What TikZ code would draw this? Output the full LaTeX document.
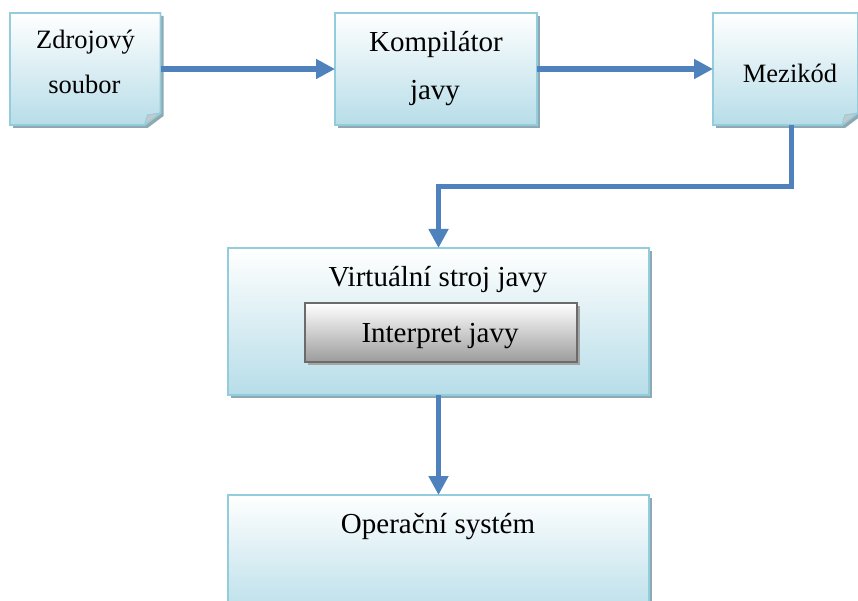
\documentclass[tikz,border=0pt]{standalone}
\usepackage{fontspec}
\setmainfont{Liberation Serif}
\usetikzlibrary{arrows.meta,shadows,calc}
\definecolor{boxline}{HTML}{93CDDD}
\definecolor{boxbot}{HTML}{B7DDE8}
\definecolor{shcol}{HTML}{8FA9B2}
\definecolor{arrcol}{HTML}{4F81BD}
\definecolor{grayline}{HTML}{6B6B6B}
\definecolor{graybot}{HTML}{9C9C9C}
\definecolor{grayshadow}{HTML}{A5A5A5}
\definecolor{foldcol}{HTML}{C8C8C8}
\tikzset{
 boxarea/.style={rectangle, inner sep=0pt, outer sep=0pt},
 bluebox/.style={boxarea, draw=boxline, line width=1.8pt, top color=white, bottom color=boxbot,
   drop shadow={shadow xshift=3pt, shadow yshift=-3pt, fill=shcol, opacity=1}},
 graybox/.style={boxarea, draw=grayline, line width=2.2pt, top color=white, bottom color=graybot,
   drop shadow={shadow xshift=3pt, shadow yshift=-3pt, fill=grayshadow, opacity=1}},
 arr/.style={draw=arrcol, line width=5.5pt, -{Triangle[length=19pt,width=19pt]}},
 bigtxt/.style={anchor=base, font=\fontsize{29}{34}\selectfont, inner sep=0pt},
 smalltxt/.style={anchor=base, font=\fontsize{26.5}{32}\selectfont, inner sep=0pt},
}
\newcommand\foldedshape[1]{%
 \fill[shcol] ([shift={(3,3)}]#1.north west) -- ([shift={(3,3)}]#1.north east)
   -- ([shift={(3,-9)}]#1.south east) -- ([shift={(-13,3)}]#1.south east)
   -- ([shift={(3,3)}]#1.south west) -- cycle;
 \shadedraw[top color=white, bottom color=boxbot, draw=boxline, line width=1.8pt, line join=miter]
   (#1.north west) -- (#1.north east) -- ([shift={(0,-12)}]#1.south east)
   -- ([shift={(-16,0)}]#1.south east) -- (#1.south west) -- cycle;
 \filldraw[fill=foldcol, draw=boxline, line width=1pt, line join=round]
   ([shift={(0,-12)}]#1.south east) -- ([shift={(-16,0)}]#1.south east)
   -- ([shift={(-13,-10)}]#1.south east) -- cycle;
}
\begin{document}
\begin{tikzpicture}[x=1pt,y=-1pt]
\useasboundingbox (0,0) rectangle (858,601);
\clip (0,0) rectangle (858,601);
% boxes
\node[boxarea, minimum width=150.5pt, minimum height=112pt] (src) at (85.3,69) {};
\foldedshape{src}
\node[bluebox, minimum width=202pt, minimum height=112pt] (comp) at (436,69) {};
\node[boxarea, minimum width=145pt, minimum height=112pt] (mez) at (785.5,69) {};
\foldedshape{mez}
\node[bluebox, minimum width=421pt, minimum height=147pt] (vm) at (438.5,321.5) {};
\node[graybox, minimum width=272pt, minimum height=59pt] (interp) at (441,332.5) {};
\node[bluebox, minimum width=421pt, minimum height=125pt] (os) at (438.5,557.5) {};
% texts
\node[smalltxt] (t1) at (85.5,49) {Zdrojový};
\node[smalltxt] (t2) at (84.5,94) {soubor};
\node[bigtxt] (t3) at (436,52) {Kompilátor};
\node[bigtxt] (t4) at (435,100) {javy};
\node[smalltxt] (t5) at (790,83) {Mezikód};
\node[bigtxt] (t6) at (438,287) {Virtuální stroj javy};
\node[bigtxt] (t7) at (440,342) {Interpret javy};
\node[bigtxt] (t8) at (438,533) {Operační systém};
% connectors
\draw[arr] (src.east) -- (comp.west);
\draw[arr] (comp.east) -- (mez.west);
\draw[arr] ([xshift=6pt]mez.south) -- ++(0,61.5) -| (vm.north);
\draw[arr] (vm.south) -- (os.north);
\end{tikzpicture}
\end{document}
